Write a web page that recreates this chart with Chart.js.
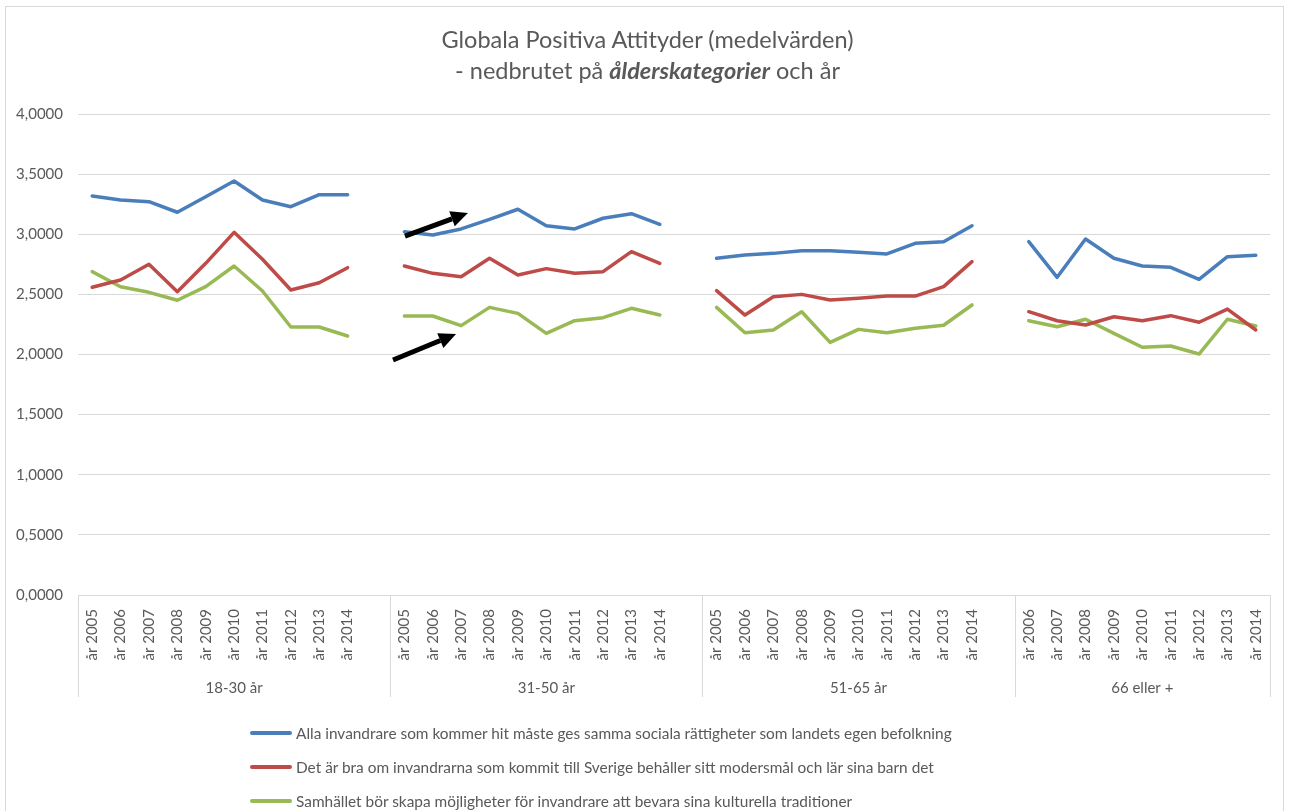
<!DOCTYPE html>
<html lang="sv">
<head>
<meta charset="utf-8">
<title>Globala Positiva Attityder</title>
<script src="https://cdn.jsdelivr.net/npm/chart.js@4.4.1/dist/chart.umd.min.js"></script>
<style>
    body { margin: 0; background: #fff; font-family: Lato, sans-serif; color: #595959; }
    #wrap { position: relative; width: 1289px; height: 811px; overflow: hidden; }
    #frame { position: absolute; left: 5px; top: 6px; width: 1279px; height: 820px; border: 1px solid #d9d9d9; box-sizing: border-box; }
    #chart { position: absolute; left: 0; top: 0; }
    #title { position: absolute; left: 0; width: 1295px; top: 24px; text-align: center; font-size: 23.5px; line-height: 31px; color: #595959; }
    #legend { position: absolute; left: 250px; top: 716px; font-size: 15.4px; }
    .row { display: flex; align-items: center; height: 34px; }
    .swatch { width: 42px; height: 4px; border-radius: 2px; margin-right: 4px; }
</style>
</head>
<body>
<div id="wrap">
    <div id="frame"></div>
    <canvas id="chart" width="1289" height="811"></canvas>
    <div id="title">Globala Positiva Attityder (medelvärden)<br>- nedbrutet på <b><i>ålderskategorier</i></b> och år</div>
    <div id="legend"></div>
</div>
<script>
// age groups and the year labels under each (blank slot = gap between groups)
const groups = ['18-30 år', '31-50 år', '51-65 år', '66 eller +'];
const yearLabels = [
    'år 2005', 'år 2006', 'år 2007', 'år 2008', 'år 2009', 'år 2010', 'år 2011', 'år 2012', 'år 2013', 'år 2014', '',
    'år 2005', 'år 2006', 'år 2007', 'år 2008', 'år 2009', 'år 2010', 'år 2011', 'år 2012', 'år 2013', 'år 2014', '',
    'år 2005', 'år 2006', 'år 2007', 'år 2008', 'år 2009', 'år 2010', 'år 2011', 'år 2012', 'år 2013', 'år 2014', '',
    'år 2006', 'år 2007', 'år 2008', 'år 2009', 'år 2010', 'år 2011', 'år 2012', 'år 2013', 'år 2014'
];
// index where each group ends (inclusive of the blank slot)
const groupEnds = [10, 21, 32, 41];

const seriesNames = [
    'Alla invandrare som kommer hit måste ges samma sociala rättigheter som landets egen befolkning',
    'Det är bra om invandrarna som kommit till Sverige behåller sitt modersmål och lär sina barn det',
    'Samhället bör skapa möjligheter för invandrare att bevara sina kulturella traditioner'
];
const seriesColors = ['#4A7EBB', '#BE4B48', '#98B954'];

const rattigheter = [
    3.318, 3.285, 3.271, 3.183, 3.312, 3.443, 3.285, 3.229, 3.329, 3.329, null,
    3.021, 2.994, 3.044, 3.124, 3.208, 3.071, 3.044, 3.133, 3.171, 3.083, null,
    2.800, 2.827, 2.841, 2.863, 2.863, 2.850, 2.836, 2.925, 2.938, 3.071, null,
    2.938, 2.642, 2.960, 2.800, 2.736, 2.725, 2.625, 2.813, 2.825
];
const modersmal = [
    2.559, 2.620, 2.750, 2.522, 2.758, 3.016, 2.792, 2.536, 2.597, 2.722, null,
    2.736, 2.675, 2.647, 2.800, 2.661, 2.714, 2.675, 2.689, 2.855, 2.758, null,
    2.531, 2.328, 2.481, 2.500, 2.453, 2.467, 2.486, 2.486, 2.564, 2.772, null,
    2.356, 2.281, 2.245, 2.314, 2.281, 2.323, 2.268, 2.378, 2.204
];
const traditioner = [
    2.689, 2.564, 2.517, 2.451, 2.564, 2.736, 2.528, 2.229, 2.229, 2.154, null,
    2.320, 2.320, 2.240, 2.392, 2.342, 2.176, 2.281, 2.306, 2.384, 2.328, null,
    2.392, 2.181, 2.204, 2.356, 2.101, 2.209, 2.181, 2.218, 2.243, 2.412, null,
    2.281, 2.231, 2.293, 2.176, 2.060, 2.071, 2.004, 2.293, 2.237
];

// hand-drawn arrows in the 31-50 group: [x index, value] tail -> head
const arrows = [
    [[11.02, 2.985], [13.24, 3.177]],
    [[10.60, 1.954], [12.82, 2.170]]
];

const textColor = '#595959';
const fontFamily = 'Lato, sans-serif';

const groupAxisPlugin = {
    id: 'groupAxis',
    afterDraw(chart) {
        const ctx = chart.ctx;
        const x = chart.scales.x;
        const bottom = chart.chartArea.bottom;
        ctx.save();
        ctx.strokeStyle = '#d9d9d9';
        ctx.lineWidth = 1;
        let start = -0.5;
        groupEnds.forEach((end, i) => {
            const left = x.getPixelForValue(start);
            const right = x.getPixelForValue(end + 0.5);
            [left, right].forEach(px => {
                ctx.beginPath();
                ctx.moveTo(Math.round(px) + 0.5, bottom);
                ctx.lineTo(Math.round(px) + 0.5, bottom + 102);
                ctx.stroke();
            });
            ctx.fillStyle = textColor;
            ctx.font = '15px ' + fontFamily;
            ctx.textAlign = 'center';
            ctx.textBaseline = 'middle';
            ctx.fillText(groups[i], (left + right) / 2, bottom + 93);
            start = end + 0.5;
        });
        ctx.restore();
    }
};

const arrowPlugin = {
    id: 'arrows',
    afterDatasetsDraw(chart) {
        const ctx = chart.ctx;
        const xs = chart.scales.x, ys = chart.scales.y;
        ctx.save();
        ctx.fillStyle = '#000';
        ctx.strokeStyle = '#000';
        arrows.forEach(([from, to]) => {
            const x0 = xs.getPixelForValue(from[0]), y0 = ys.getPixelForValue(from[1]);
            const x1 = xs.getPixelForValue(to[0]), y1 = ys.getPixelForValue(to[1]);
            const ang = Math.atan2(y1 - y0, x1 - x0);
            const headLen = 17, headW = 8;
            const bx = x1 - headLen * Math.cos(ang), by = y1 - headLen * Math.sin(ang);
            ctx.lineWidth = 5;
            ctx.beginPath();
            ctx.moveTo(x0, y0);
            ctx.lineTo(bx, by);
            ctx.stroke();
            ctx.beginPath();
            ctx.moveTo(x1, y1);
            ctx.lineTo(bx + headW * Math.sin(ang), by - headW * Math.cos(ang));
            ctx.lineTo(bx - headW * Math.sin(ang), by + headW * Math.cos(ang));
            ctx.closePath();
            ctx.fill();
        });
        ctx.restore();
    }
};

const seriesData = [rattigheter, modersmal, traditioner];

new Chart(document.getElementById('chart'), {
    type: 'line',
    data: {
        labels: yearLabels,
        datasets: seriesData.map((d, i) => ({
            label: seriesNames[i],
            data: d,
            borderColor: seriesColors[i],
            backgroundColor: seriesColors[i],
            borderWidth: 3.5,
            pointRadius: 0,
            tension: 0,
            borderJoinStyle: 'round',
            borderCapStyle: 'round'
        }))
    },
    options: {
        responsive: false,
        animation: false,
        layout: { padding: { top: 114, right: 19, bottom: 101, left: 0 } },
        plugins: {
            legend: { display: false },
            title: { display: false },
            tooltip: { enabled: false }
        },
        scales: {
            x: {
                offset: true,
                grid: { display: false },
                border: { display: false },
                ticks: {
                    autoSkip: false,
                    minRotation: 90,
                    maxRotation: 90,
                    padding: 6,
                    color: textColor,
                    font: { family: fontFamily, size: 15 }
                },
                afterFit(scale) { scale.height = 115; }
            },
            y: {
                min: 0,
                max: 4,
                ticks: {
                    stepSize: 0.5,
                    padding: 15,
                    color: textColor,
                    font: { family: fontFamily, size: 15 },
                    callback: v => v.toFixed(4).replace('.', ',')
                },
                grid: { color: '#d9d9d9', drawTicks: false },
                border: { display: false },
                afterFit(scale) { scale.width = 78; }
            }
        }
    },
    plugins: [groupAxisPlugin, arrowPlugin]
});

// legend rows, left aligned like the original
const legend = document.getElementById('legend');
seriesNames.forEach((name, i) => {
    const row = document.createElement('div');
    row.className = 'row';
    const sw = document.createElement('span');
    sw.className = 'swatch';
    sw.style.background = seriesColors[i];
    const txt = document.createElement('span');
    txt.textContent = name;
    row.appendChild(sw);
    row.appendChild(txt);
    legend.appendChild(row);
});
</script>
</body>
</html>
